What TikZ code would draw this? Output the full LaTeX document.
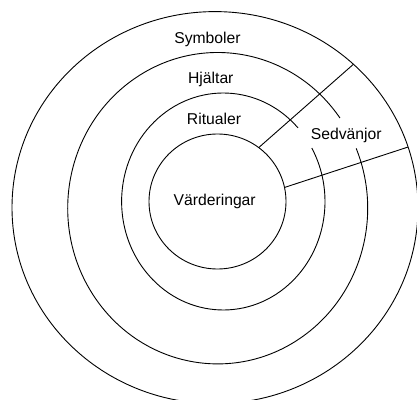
\documentclass[tikz,border=0pt]{standalone}
\usepackage{fontspec}
\setmainfont{Liberation Sans}
\begin{document}
\begin{tikzpicture}[
    x=1pt, y=1pt,
    ring/.style={
      draw=black,
      line width=0.9pt
    },
    layer/.style={
      font=\fontsize{15.7}{18}\selectfont,
      anchor=base,
      inner sep=0pt
    }
  ]
    \useasboundingbox (0,0) rectangle (417,399);
    % centres of the four rings
    \coordinate (cvalue) at (217.5,197.5);
    \coordinate (critual) at (223.3,197.5);
    \coordinate (chero) at (217.7,190.8);
    \coordinate (csymbol) at (215,191.4);
    % rings, the middle two open for the label
    \draw[ring] (cvalue) ellipse [x radius=68.5, y radius=67.5];
    \draw[ring] (critual) ++(42.7:101.7 and 108.5)
      arc[start angle=42.7, end angle=389.5, x radius=101.7, y radius=108.5];
    \draw[ring] (chero) ++(35.4:150 and 155.7)
      arc[start angle=35.4, end angle=382.6, x radius=150, y radius=155.7];
    \draw[ring] (csymbol) ellipse [x radius=203, y radius=196];
    % ends of the two dividers
    \path (cvalue) ++(53:68.5 and 67.5) coordinate (v1);
    \path (cvalue) ++(12:68.5 and 67.5) coordinate (v2);
    \path (csymbol) ++(47:203 and 196) coordinate (s1);
    \path (csymbol) ++(18:203 and 196) coordinate (s2);
    \draw[ring] (v1) -- (s1);
    \draw[ring] (v2) -- (s2);
    % labels
    \node[layer] (symboler) at (207.5,355) {Symboler};
    \node[layer] (hjaltar) at (210.8,315) {Hjältar};
    \node[layer] (ritualer) at (214,274) {Ritualer};
    \node[layer] (sedvanjor) at (346.3,259) {Sedvänjor};
    \node[layer] (varderingar) at (214.7,193) {Värderingar};
  \end{tikzpicture}
\end{document}
